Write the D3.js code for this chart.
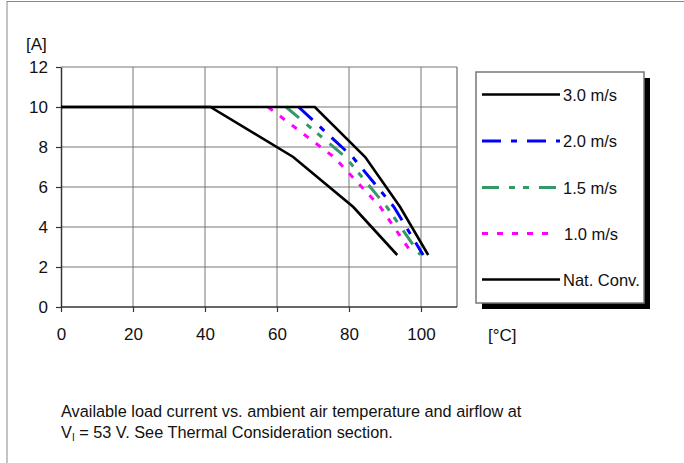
<!DOCTYPE html>
<html><head><meta charset="utf-8">
<script src="https://cdn.jsdelivr.net/npm/d3@7"></script>
<style>
body{margin:0;background:#fff;}
svg{display:block;font-family:"Liberation Sans",Arial,Helvetica,sans-serif;}
</style></head>
<body><svg id="c" width="684" height="463"></svg>
<script>
// Data (temperature °C, current A)
const seriesNames = ["3.0 m/s","2.0 m/s","1.5 m/s","1.0 m/s","Nat. Conv."];
const temp30  = [0, 70.5, 84.5, 94.2, 102.0];
const curr30  = [10, 10, 7.5, 5.0, 2.6];
const temp20  = [66.0, 81.0, 92.5, 100.6];
const curr20  = [10, 7.5, 5.0, 2.6];
const temp15  = [62.5, 79.0, 90.5, 99.8];
const curr15  = [10, 7.5, 5.0, 2.6];
const temp10  = [57.5, 75.8, 88.7, 97.8];
const curr10  = [10, 7.5, 5.0, 2.6];
const tempNat = [0, 41.5, 64.5, 81.2, 93.4];
const currNat = [10, 10, 7.5, 5.0, 2.6];
const xTicks = [0,20,40,60,80,100];
const yTicks = [0,2,4,6,8,10,12];

const styles = [
  {color:"#000000", dash:null, w:2.6},
  {color:"#0000ff", dash:"19,10,6,10", w:3},
  {color:"#339966", dash:"17,10,6,8,6,10", w:3},
  {color:"#ff00ff", dash:"6,9", w:3},
  {color:"#000000", dash:null, w:2.6}
];
const data = [
  d3.zip(temp30, curr30), d3.zip(temp20, curr20), d3.zip(temp15, curr15),
  d3.zip(temp10, curr10), d3.zip(tempNat, currNat)
];

const svg = d3.select("#c");
const L=61, R=457, T=67, B=307;
const x = d3.scaleLinear().domain([0,110]).range([L,R]);
const y = d3.scaleLinear().domain([0,12]).range([B,T]);

// outer frame (top + left)
svg.append("line").attr("x1",7).attr("x2",684).attr("y1",1.5).attr("y2",1.5).attr("stroke","#888").attr("stroke-width",1);
svg.append("line").attr("x1",7).attr("x2",7).attr("y1",1).attr("y2",463).attr("stroke","#888").attr("stroke-width",1);

// grid
const g = svg.append("g");
g.selectAll(".hg").data(yTicks.filter(d=>d>0)).enter().append("line")
  .attr("x1",L).attr("x2",R).attr("y1",d=>y(d)).attr("y2",d=>y(d))
  .attr("stroke","#777").attr("stroke-width",1);
g.selectAll(".vg").data(xTicks.filter(d=>d>0)).enter().append("line")
  .attr("x1",d=>x(d)).attr("x2",d=>x(d)).attr("y1",T).attr("y2",B)
  .attr("stroke","#777").attr("stroke-width",1);
g.append("line").attr("x1",R).attr("x2",R).attr("y1",T).attr("y2",B).attr("stroke","#888").attr("stroke-width",1.5);

// axes
const xAxis = svg.append("g").attr("transform",`translate(0,${B})`)
  .call(d3.axisBottom(x).tickValues(xTicks).tickSize(5).tickSizeOuter(0).tickPadding(16));
const yAxis = svg.append("g").attr("transform",`translate(${L},0)`)
  .call(d3.axisLeft(y).tickValues(yTicks).tickSize(5).tickSizeOuter(0).tickPadding(8));
[xAxis,yAxis].forEach(a=>{
  a.select(".domain").attr("stroke","#333").attr("stroke-width",1.5);
  a.selectAll(".tick line").attr("stroke","#333").attr("stroke-width",1.2);
  a.selectAll("text").attr("font-size",17).attr("fill","#111").attr("font-family","Liberation Sans, Arial, sans-serif");
});
xAxis.select(".domain").attr("d",`M${L},0H${R}`);

// lines
const line = d3.line().x(d=>x(d[0])).y(d=>y(d[1]));
const order = [3,2,1,4,0];
order.forEach(i=>{
  svg.append("path").datum(data[i]).attr("d",line)
    .attr("fill","none").attr("stroke",styles[i].color).attr("stroke-width",styles[i].w)
    .attr("stroke-dasharray",styles[i].dash).attr("stroke-linejoin","miter");
});

// axis unit labels
svg.append("text").attr("x",26).attr("y",50).attr("font-size",17).attr("fill","#111").text("[A]");
svg.append("text").attr("x",488).attr("y",341).attr("font-size",17).attr("fill","#111").text("[°C]");

// legend
const lx=476, ly=72, lw=168, lh=231;
svg.append("rect").attr("x",lx+6).attr("y",ly+6).attr("width",lw).attr("height",lh).attr("fill","#000");
svg.append("rect").attr("x",lx).attr("y",ly).attr("width",lw).attr("height",lh).attr("fill","#fff").attr("stroke","#777").attr("stroke-width",1.5);
const legY = [94.5,141,187.5,233.5,279.5];
seriesNames.forEach((n,i)=>{
  svg.append("line").attr("x1",482).attr("x2",i===3?551:560).attr("y1",legY[i]).attr("y2",legY[i])
    .attr("stroke",styles[i].color).attr("stroke-width",styles[i].w).attr("stroke-dasharray",styles[i].dash);
  svg.append("text").attr("x",i===3?564:563).attr("y",legY[i]+6).attr("font-size",16.5).attr("fill","#111").text(n);
});

// caption
const cap = svg.append("g").attr("font-size",16.3).attr("fill","#111");
cap.append("text").attr("x",61).attr("y",417).text("Available load current vs. ambient air temperature and airflow at");
const t2 = cap.append("text").attr("x",61).attr("y",438);
t2.append("tspan").text("V");
t2.append("tspan").attr("font-size",10).attr("dy",3).text("I");
t2.append("tspan").attr("dy",-3).text(" = 53 V. See Thermal Consideration section.");
</script></body></html>
